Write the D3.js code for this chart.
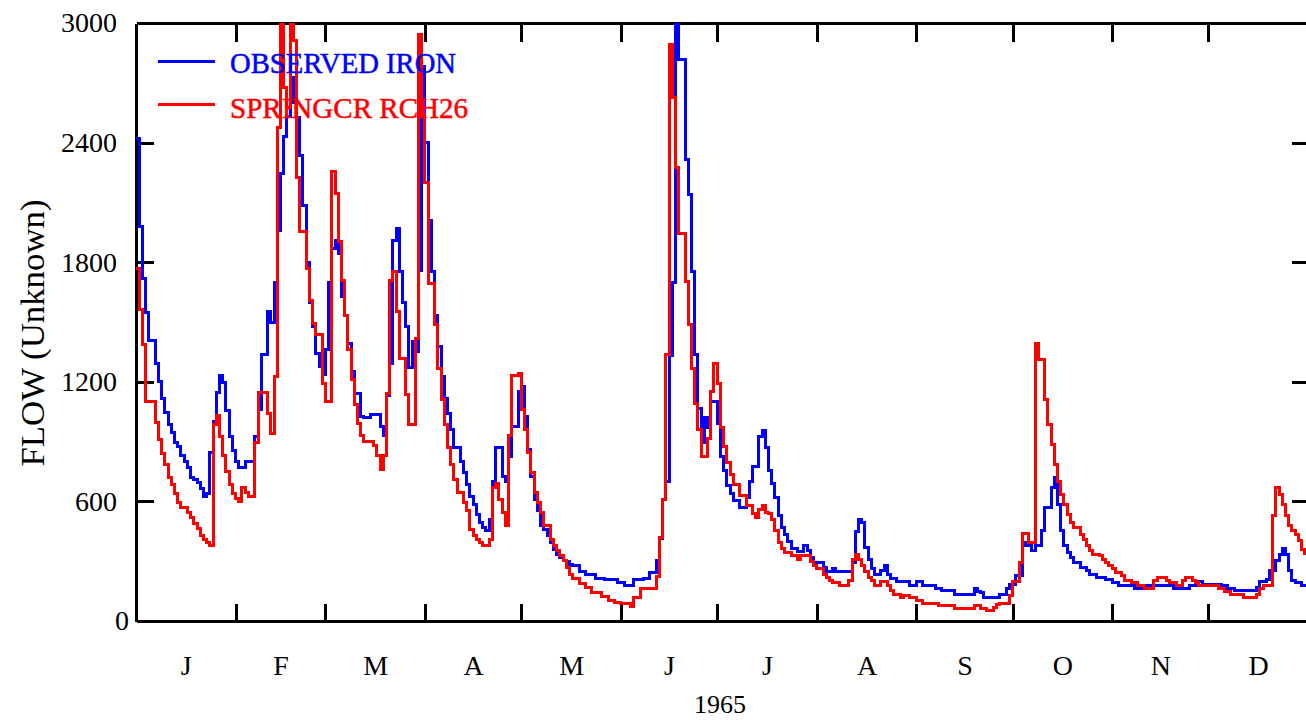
<!DOCTYPE html>
<html>
<head>
<meta charset="utf-8">
<script src="https://cdn.jsdelivr.net/npm/d3@7"></script>
<style>
  body { margin: 0; background: #ffffff; }
  svg { display: block; }
</style>
</head>
<body>
<svg id="chart" width="1306" height="720"></svg>
<script>
// ---- data -------------------------------------------------------------
const monthLetters = ["J", "F", "M", "A", "M", "J", "J", "A", "S", "O", "N", "D"];
const monthDays = [31, 28, 31, 30, 31, 30, 31, 31, 30, 31, 30, 31];
const yTickValues = [0, 600, 1200, 1800, 2400, 3000];
const yearLabel = "1965";
const yAxisTitle = "FLOW (Unknown)";
const seriesNames = ["OBSERVED IRON", "SPRINGCR RCH26"];

// Daily flow, observed (1965, one value per day)
const observedIron = [
  // Jan
  2420,1980,1720,1550,1405,1405,1290,1200,1115,1045,985,945,895,875,830,800,770,720,710,695,665,625,640,845,1000,1145,1230,1195,1055,925,855,
  // Feb
  800,770,770,800,800,800,925,1060,1338,1338,1552,1500,1698,1960,2245,2430,2530,2600,2727,2527,2335,2085,1800,1600,1477,1343,1277,1235,
  // Mar
  1360,1700,1868,1910,1843,1627,1535,1393,1252,1143,1143,1027,1020,1020,1035,1035,1035,977,930,1130,1290,1910,1968,1752,1600,1477,1270,1400,1350,1760,2780,
  // Apr
  2400,2010,1752,1535,1377,1227,1118,1043,960,868,868,802,743,685,627,585,535,493,468,452,510,702,868,868,727,702,827,977,977,1152,
  // May
  1177,1027,860,727,610,552,477,460,427,393,360,335,318,302,300,285,280,280,250,250,235,235,235,215,215,215,210,210,210,210,195,
  // Jun
  195,180,180,180,210,210,210,215,215,245,245,305,415,610,700,1330,1700,2990,2815,2815,2315,2140,1752,1335,1065,895,1020,970,1100,1100,
  // Jul
  990,825,755,680,640,605,605,570,570,620,700,775,775,925,955,870,755,690,620,530,468,435,397,363,363,347,347,380,352,318,293,
  // Aug
  293,293,268,247,247,263,247,247,247,247,247,293,450,510,493,368,310,263,235,235,252,280,235,213,213,197,197,197,197,180,180,
  // Sep
  197,197,180,180,180,180,163,163,152,152,152,152,135,135,135,135,135,135,163,150,143,118,118,118,118,118,135,135,163,185,
  // Oct
  185,230,230,393,380,380,352,380,380,452,568,568,668,718,585,452,380,343,318,293,293,268,268,252,235,235,218,218,218,207,207,
  // Nov
  193,193,177,177,177,177,177,163,163,163,177,177,177,180,180,180,180,180,180,163,163,163,163,163,180,180,197,197,185,185,
  // Dec
  185,185,185,185,177,177,163,163,152,152,152,152,152,152,152,168,197,197,210,252,252,302,335,363,335,252,205,193,193,180,180
];

// Daily flow, simulated at SPRINGCR reach 26
const springcrRch26 = [
  // Jan
  1770,1563,1385,1102,1102,1102,997,913,840,785,718,685,638,593,568,568,543,518,490,463,427,407,393,380,985,1030,927,830,752,685,640,
  // Feb
  613,602,668,643,623,623,893,1146,1146,1146,1043,943,1227,2477,3300,2677,2577,3300,2910,2227,1952,1952,1768,1610,1493,1435,1435,1193,
  // Mar
  1100,1100,2255,2143,1902,1710,1535,1360,1210,1085,993,930,900,900,900,880,830,760,830,1143,1710,1752,1552,1318,1318,1135,985,985,1418,2943,2540,
  // Apr
  2200,1693,1693,1485,1268,1110,985,868,785,710,643,643,593,552,460,427,407,393,377,377,410,668,690,610,543,477,930,1232,1232,1243,
  // May
  1060,960,843,743,643,593,543,477,477,410,377,352,327,302,268,235,215,215,190,190,170,170,145,145,145,125,125,105,105,95,95,
  // Jun
  90,90,90,75,120,120,165,165,165,165,165,225,420,610,1335,2893,2627,2277,1943,1943,1702,1485,1268,1093,960,827,827,918,1152,1293,
  // Jul
  1190,970,875,795,733,685,685,630,630,580,580,540,520,560,580,545,540,510,455,393,365,343,343,327,327,310,330,330,330,297,280,
  // Aug
  263,263,235,218,202,193,193,180,180,180,205,310,335,310,280,247,218,202,180,180,197,197,180,152,135,135,118,127,127,118,118,
  // Sep
  102,102,90,90,90,90,90,77,77,77,77,77,65,65,65,65,65,65,77,77,63,63,52,52,68,85,90,90,90,127,
  // Oct
  197,197,293,440,440,393,393,1393,1310,1310,1113,985,885,785,702,635,585,535,493,468,468,435,410,377,352,335,335,327,310,293,277,
  // Nov
  263,243,243,227,205,205,193,193,177,177,163,163,163,205,218,218,218,205,193,193,180,180,205,218,218,205,193,180,180,180,
  // Dec
  180,180,180,163,163,147,147,135,135,135,135,118,118,118,118,135,163,180,180,180,527,668,635,585,527,477,452,435,402,360,340
];

// ---- layout -------------------------------------------------------------
const svg = d3.select("#chart");
const plot = { left: 136, right: 1308, top: 23, bottom: 621 };
const serif = "'Liberation Serif', 'Times New Roman', serif";

const x = d3.scaleLinear().domain([0, 365]).range([plot.left, plot.right]);
const y = d3.scaleLinear().domain([0, 3000]).range([plot.bottom, plot.top]);

// month boundaries (day of year) and mid-month positions
const monthStarts = [];
let acc = 0;
monthDays.forEach(d => { monthStarts.push(acc); acc += d; });
const monthMids = monthStarts.map((s, i) => s + monthDays[i] / 2);

svg.append("defs").append("clipPath").attr("id", "plotClip")
  .append("rect")
  .attr("x", plot.left).attr("y", plot.top)
  .attr("width", plot.right - plot.left).attr("height", plot.bottom - plot.top);

// ---- axes (ticks drawn inward) -----------------------------------------
function styleAxis(g) {
  g.selectAll(".domain").attr("stroke", "#000").attr("stroke-width", 3);
  g.selectAll(".tick line").attr("stroke", "#000").attr("stroke-width", 3);
  g.attr("shape-rendering", "crispEdges");
}

svg.append("g")
  .attr("transform", `translate(0,${plot.bottom})`)
  .call(d3.axisBottom(x).tickValues(monthStarts.slice(1)).tickSizeInner(-17).tickSizeOuter(0).tickFormat(""))
  .call(styleAxis);

svg.append("g")
  .attr("transform", `translate(0,${plot.top})`)
  .call(d3.axisTop(x).tickValues(monthStarts.slice(1)).tickSizeInner(-19).tickSizeOuter(0).tickFormat(""))
  .call(styleAxis);

const yAxisG = svg.append("g")
  .attr("transform", `translate(${plot.left},0)`)
  .call(d3.axisLeft(y).tickValues(yTickValues).tickSizeInner(-18).tickSizeOuter(0).tickPadding(19).tickFormat(d3.format("d")))
  .call(styleAxis);
yAxisG.selectAll(".tick line").filter(d => d === 0 || d === 3000).remove();
yAxisG.selectAll(".tick text")
  .attr("font-family", serif).attr("font-size", 28).attr("fill", "#000")
  .attr("x", d => d === 0 ? -7 : -19);

svg.append("g")
  .attr("transform", `translate(${plot.right},0)`)
  .call(d3.axisRight(y).tickValues(yTickValues.slice(1, -1)).tickSizeInner(-16).tickSizeOuter(0).tickFormat(""))
  .call(styleAxis);

// month letters centred in each month
const monthAxisG = svg.append("g")
  .attr("transform", `translate(0,${plot.bottom})`)
  .call(d3.axisBottom(x).tickValues(monthMids).tickSize(0).tickPadding(34)
        .tickFormat((d, i) => monthLetters[i]));
monthAxisG.select(".domain").remove();
monthAxisG.selectAll(".tick text")
  .attr("font-family", serif).attr("font-size", 28).attr("fill", "#000");

// year label
svg.append("text")
  .attr("x", x(182.5) - 2).attr("y", 704)
  .attr("text-anchor", "middle").attr("dominant-baseline", "central")
  .attr("font-family", serif).attr("font-size", 26).attr("fill", "#000")
  .text(yearLabel);

// y-axis title
svg.append("text")
  .attr("transform", "translate(33,333) rotate(-90)")
  .attr("text-anchor", "middle").attr("dominant-baseline", "central")
  .attr("font-family", serif).attr("font-size", 33).attr("fill", "#000")
  .attr("textLength", 267).attr("lengthAdjust", "spacingAndGlyphs")
  .text(yAxisTitle);

// ---- series (daily steps) ---------------------------------------------
const stepLine = d3.line()
  .x(d => x(d[0]))
  .y(d => y(d[1]))
  .curve(d3.curveStepAfter);

function toPoints(vals) {
  const pts = vals.map((v, i) => [i, v]);
  pts.push([vals.length, vals[vals.length - 1]]);
  return pts;
}

const series = [
  { name: seriesNames[0], values: observedIron, color: "#0000ff" },
  { name: seriesNames[1], values: springcrRch26, color: "#ff0000" }
];

const linesG = svg.append("g").attr("clip-path", "url(#plotClip)");
series.forEach(s => {
  linesG.append("path")
    .datum(toPoints(s.values))
    .attr("d", stepLine)
    .attr("fill", "none")
    .attr("stroke", s.color)
    .attr("stroke-width", 3)
    .attr("stroke-linejoin", "miter")
    .attr("shape-rendering", "crispEdges");
});

// ---- legend -------------------------------------------------------------
const legendRows = [
  { y: 61, textY: 62, width: 226 },
  { y: 104, textY: 107, width: 238 }
];
series.forEach((s, i) => {
  const r = legendRows[i];
  svg.append("line")
    .attr("x1", 158).attr("x2", 215).attr("y1", r.y).attr("y2", r.y)
    .attr("stroke", s.color).attr("stroke-width", 3)
    .attr("shape-rendering", "crispEdges");
  svg.append("text")
    .attr("x", 230).attr("y", r.textY)
    .attr("dominant-baseline", "central")
    .attr("font-family", serif)
    .attr("font-size", 30)
    .attr("stroke", s.color).attr("stroke-width", 0.5)
    .attr("textLength", r.width).attr("lengthAdjust", "spacingAndGlyphs")
    .attr("fill", s.color)
    .text(s.name);
});
</script>
</body>
</html>
